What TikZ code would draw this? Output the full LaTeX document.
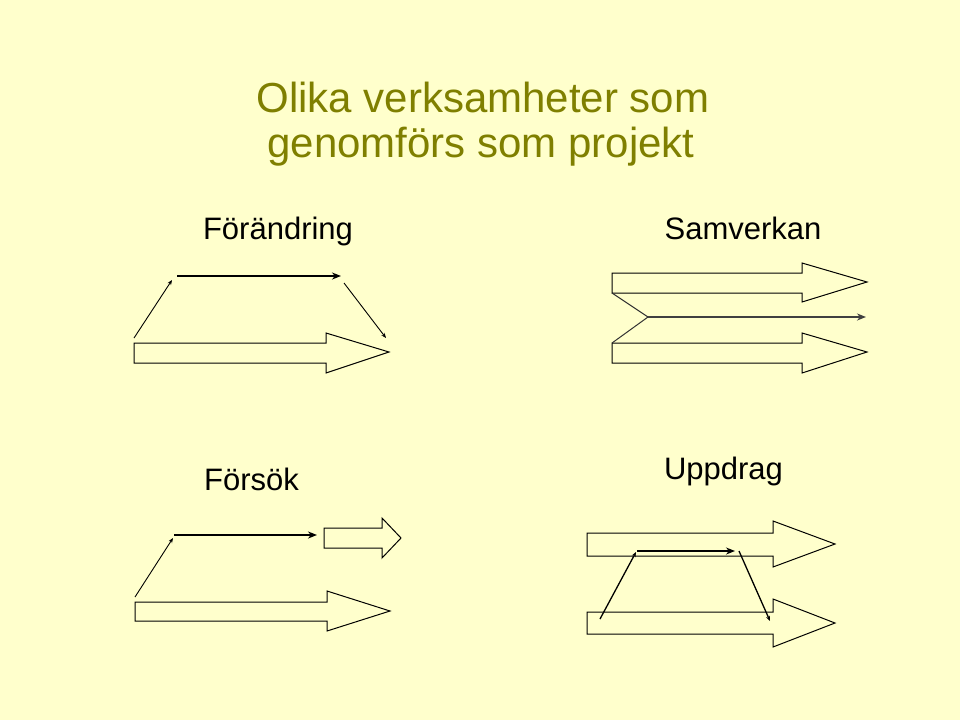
\documentclass[tikz,border=0pt]{standalone}
\usepackage{fontspec}
\setmainfont{Liberation Sans}
\usetikzlibrary{arrows.meta}
\definecolor{paper}{HTML}{FFFFCC}
\definecolor{olive}{HTML}{7F7F00}
\tikzset{
  title/.style={anchor=base, text=olive, font=\fontsize{42}{46}\selectfont, inner sep=0pt},
  label/.style={anchor=base, text=black, font=\fontsize{31}{36}\selectfont, inner sep=0pt},
  block/.style={draw=black, line width=1pt, line join=miter},
  thin/.style={draw=black, line width=0.9pt, -{Stealth[length=5pt, width=4pt]}},
  bold/.style={draw=black, line width=1.7pt, -{Stealth[length=9pt, width=7pt]}}
}

\begin{document}
\begin{tikzpicture}[x=1pt, y=-1pt]
\fill[paper] (0,0) rectangle (960,720);
\useasboundingbox (0,0) rectangle (960,720);
\node[title] (head1) at (483,112) {Olika verksamheter som};
\node[title] (head2) at (481,157) {genomförs som projekt};
\node[label] (change) at (278,239) {Förändring};
\node[label] (coop) at (743,239) {Samverkan};
\node[label] (trial) at (251.5,490) {Försök};
\node[label] (order) at (723.5,479) {Uppdrag};
% Förändring
\draw[block] (134,343) -- (326,343) -- (326,333) -- (389,352) -- (326,373) -- (326,363) -- (134,363) -- cycle;
\coordinate (fa) at (134,338);
\coordinate (fb) at (172,280);
\coordinate (fc) at (177,276);
\coordinate (fd) at (341,276);
\coordinate (fe) at (344,283);
\coordinate (ff) at (386,338);
\draw[thin] (fa) -- (fb);
\draw[bold] (fc) -- (fd);
\draw[thin] (fe) -- (ff);
% Samverkan
\draw[block] (612,273) -- (802,273) -- (802,263) -- (867,282) -- (802,302) -- (802,293) -- (612,293) -- cycle;
\draw[block] (612,343) -- (802,343) -- (802,333) -- (867,352) -- (802,373) -- (802,363) -- (612,363) -- cycle;
\coordinate (sa) at (612,293);
\coordinate (sb) at (648,317);
\coordinate (sc) at (612,343);
\coordinate (sd) at (866,317);
\draw[line width=1pt, black!80] (sa) -- (sb) -- (sc);
\draw[bold, draw=black!75, line width=1.5pt] (sb) -- (sd);
% Försök
\draw[block] (135,602) -- (327,602) -- (327,591) -- (390,611) -- (327,631) -- (327,621) -- (135,621) -- cycle;
\draw[block] (324,528) -- (382,528) -- (382,518) -- (401,538) -- (382,558) -- (382,548) -- (324,548) -- cycle;
\coordinate (ta) at (135,597);
\coordinate (tb) at (173,538);
\coordinate (tc) at (174,535);
\coordinate (td) at (317,535);
\draw[thin] (ta) -- (tb);
\draw[bold] (tc) -- (td);
% Uppdrag
\draw[block] (587,533) -- (773,533) -- (773,521) -- (835,544) -- (773,567) -- (773,556) -- (587,556) -- cycle;
\draw[block] (587,612) -- (773,612) -- (773,599) -- (835,623) -- (773,647) -- (773,634) -- (587,634) -- cycle;
\coordinate (ua) at (600,619);
\coordinate (ub) at (636,552);
\coordinate (uc) at (637,551);
\coordinate (ud) at (735,551);
\coordinate (ue) at (739,551);
\coordinate (uf) at (770,621);
\draw[thin, line width=1.3pt] (ua) -- (ub);
\draw[bold] (uc) -- (ud);
\draw[thin, line width=1.3pt] (ue) -- (uf);
\end{tikzpicture}
\end{document}
